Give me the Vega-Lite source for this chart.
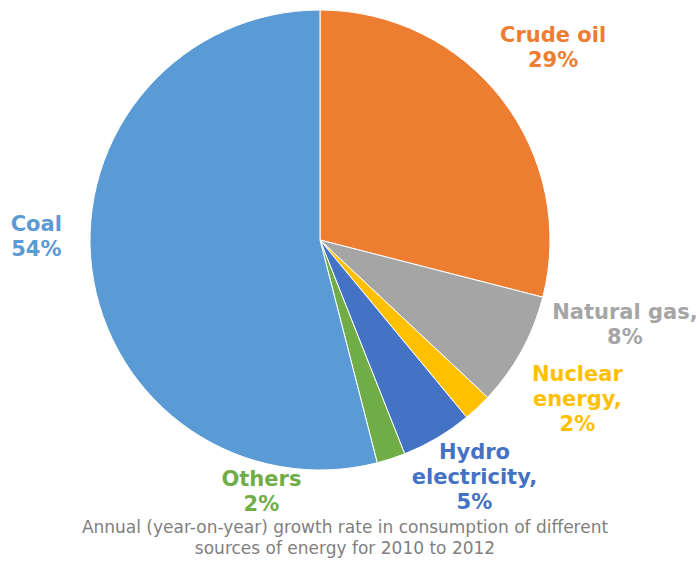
{
  "$schema": "https://vega.github.io/schema/vega-lite/v6.json",
  "width": 640,
  "height": 480,
  "autosize": {"type": "none"},
  "padding": {"left": 0, "top": 0, "right": 60, "bottom": 87},
  "background": "white",
  "config": {"view": {"stroke": null}, "font": "DejaVu Sans"},
  "title": {
    "text": ["Annual (year-on-year) growth rate in consumption of different", "sources of energy for 2010 to 2012"],
    "orient": "bottom",
    "frame": "group",
    "anchor": "middle",
    "dx": 25,
    "offset": 5,
    "fontSize": 17,
    "fontWeight": "normal",
    "color": "#808080",
    "lineHeight": 21,
    "font": "DejaVu Sans"
  },
  "data": {
    "values": [
      {"rank": 1, "source": "Crude oil", "share": 29, "label": "Crude oil\n29%"},
      {"rank": 2, "source": "Natural gas", "share": 8, "label": "Natural gas,\n8%"},
      {"rank": 3, "source": "Nuclear energy", "share": 2, "label": "Nuclear\nenergy,\n2%"},
      {"rank": 4, "source": "Hydro electricity", "share": 5, "label": "Hydro\nelectricity,\n5%"},
      {"rank": 5, "source": "Others", "share": 2, "label": "Others\n2%"},
      {"rank": 6, "source": "Coal", "share": 54, "label": "Coal\n54%"}
    ]
  },
  "encoding": {
    "theta": {"field": "share", "type": "quantitative", "stack": true},
    "order": {"field": "rank", "type": "quantitative"},
    "color": {
      "field": "source",
      "type": "nominal",
      "scale": {
        "domain": ["Crude oil", "Natural gas", "Nuclear energy", "Hydro electricity", "Others", "Coal"],
        "range": ["#ED7D31", "#A5A5A5", "#FFC000", "#4472C4", "#70AD47", "#5B9BD5"]
      },
      "legend": null
    }
  },
  "layer": [
    {"mark": {"type": "arc", "outerRadius": 230, "stroke": "white", "strokeWidth": 1}},
    {
      "mark": {"type": "text", "radius": 300, "dx": -4, "dy": -20, "fontSize": 21, "fontWeight": "bold", "lineBreak": "\n", "lineHeight": 25, "align": "center", "baseline": "middle"},
      "encoding": {"text": {"condition": {"test": "datum.source === 'Crude oil'", "field": "label"}, "value": ""}}
    },
    {
      "mark": {"type": "text", "radius": 300, "dx": 42, "dy": -72, "fontSize": 21, "fontWeight": "bold", "lineBreak": "\n", "lineHeight": 25, "align": "center", "baseline": "middle"},
      "encoding": {"text": {"condition": {"test": "datum.source === 'Natural gas'", "field": "label"}, "value": ""}}
    },
    {
      "mark": {"type": "text", "radius": 300, "dx": 52, "dy": -84, "fontSize": 21, "fontWeight": "bold", "lineBreak": "\n", "lineHeight": 25, "align": "center", "baseline": "middle"},
      "encoding": {"text": {"condition": {"test": "datum.source === 'Nuclear energy'", "field": "label"}, "value": ""}}
    },
    {
      "mark": {"type": "text", "radius": 270, "dx": 17, "dy": -19, "fontSize": 21, "fontWeight": "bold", "lineBreak": "\n", "lineHeight": 25, "align": "center", "baseline": "middle"},
      "encoding": {"text": {"condition": {"test": "datum.source === 'Hydro electricity'", "field": "label"}, "value": ""}}
    },
    {
      "mark": {"type": "text", "radius": 270, "dx": -142, "dy": -17, "fontSize": 21, "fontWeight": "bold", "lineBreak": "\n", "lineHeight": 25, "align": "center", "baseline": "middle"},
      "encoding": {"text": {"condition": {"test": "datum.source === 'Others'", "field": "label"}, "value": ""}}
    },
    {
      "mark": {"type": "text", "radius": 290, "dx": 4, "dy": -51, "fontSize": 21, "fontWeight": "bold", "lineBreak": "\n", "lineHeight": 25, "align": "center", "baseline": "middle"},
      "encoding": {"text": {"condition": {"test": "datum.source === 'Coal'", "field": "label"}, "value": ""}}
    }
  ]
}
